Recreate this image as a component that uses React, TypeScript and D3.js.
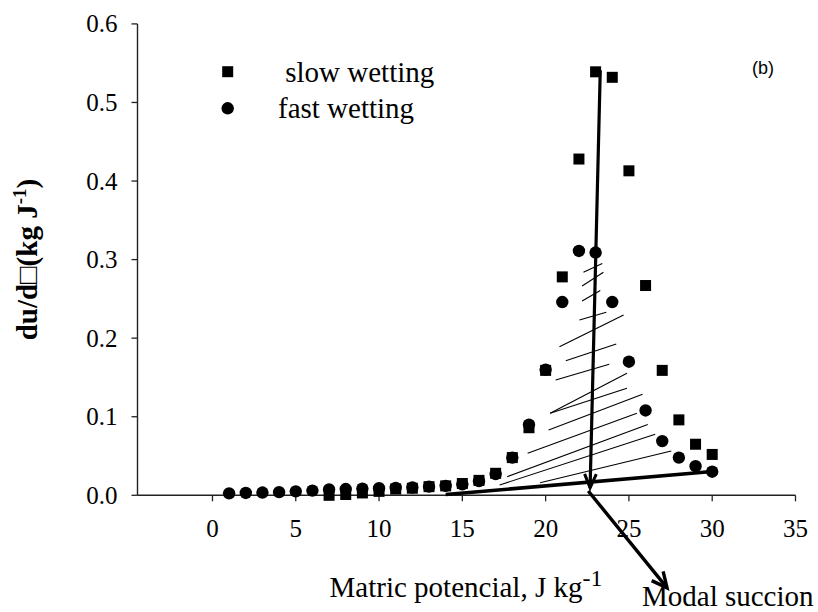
import React from 'react';
import * as d3 from 'd3';

// ---- data ----
const slowX = [7, 8, 9, 10, 11, 12, 13, 14, 15, 16, 17, 18, 19, 20, 21, 22, 23, 24, 25, 26, 27, 28, 29, 30];
const slowY = [0.0, 0.001, 0.003, 0.005, 0.008, 0.009, 0.011, 0.012, 0.015, 0.019, 0.028, 0.048, 0.086, 0.159, 0.278, 0.428, 0.539, 0.532, 0.413, 0.267, 0.159, 0.096, 0.065, 0.052];
const fastX = [1, 2, 3, 4, 5, 6, 7, 8, 9, 10, 11, 12, 13, 14, 15, 16, 17, 18, 19, 20, 21, 22, 23, 24, 25, 26, 27, 28, 29, 30];
const fastY = [0.0025, 0.003, 0.0035, 0.004, 0.005, 0.006, 0.0075, 0.008, 0.0085, 0.009, 0.0095, 0.010, 0.011, 0.012, 0.014, 0.018, 0.027, 0.048, 0.090, 0.160, 0.246, 0.311, 0.309, 0.246, 0.170, 0.108, 0.069, 0.048, 0.037, 0.030];
const xTicks = [0, 5, 10, 15, 20, 25, 30, 35];
const yTicks = [0, 0.1, 0.2, 0.3, 0.4, 0.5, 0.6];
const seriesNames = [' slow wetting', 'fast wetting'];
// hatch segments [x1, y1, x2, y2] in data units
const hatch: number[][] = [
  [22.27, 0.2838, 23.40, 0.2950],
  [22.19, 0.2664, 23.47, 0.2838],
  [22.19, 0.2473, 23.28, 0.2607],
  [22.03, 0.2231, 23.64, 0.2329],
  [20.83, 0.1891, 24.68, 0.2295],
  [21.21, 0.1713, 24.24, 0.1926],
  [20.60, 0.1468, 23.82, 0.1667],
  [20.27, 0.1044, 24.88, 0.1553],
  [20.27, 0.1044, 24.88, 0.1362],
  [20.18, 0.0831, 25.82, 0.1285],
  [18.92, 0.0535, 25.48, 0.1044],
  [17.69, 0.0237, 26.13, 0.0901],
  [17.24, 0.0131, 26.58, 0.0778],
  [19.67, 0.0160, 27.54, 0.0564],
];
const peakLine = [[23.28, 0.541], [22.67, 0.0095]];
const baseLine = [[14, 0.001], [30, 0.0303]];
const modalArrow = [[22.56, 0.0055], [27.29, -0.1178]];

const W = 818, H = 612;
const serif = '"Liberation Serif", "Times New Roman", serif';

function arrowHead(x1: number, y1: number, x2: number, y2: number, len: number, ang: number) {
  const a = Math.atan2(y2 - y1, x2 - x1);
  const p1 = [x2 - len * Math.cos(a - ang), y2 - len * Math.sin(a - ang)];
  const p2 = [x2 - len * Math.cos(a + ang), y2 - len * Math.sin(a + ang)];
  return `M${p1[0]},${p1[1]}L${x2},${y2}L${p2[0]},${p2[1]}`;
}

export default function App() {
  const x = d3.scaleLinear().domain([-4.5, 35]).range([137.5, 795.5]);
  const y = d3.scaleLinear().domain([0, 0.6]).range([495.3, 23.9]);
  const x0 = x.range()[0];
  const y0 = y(0);
  const line = d3.line<number[]>().x(d => x(d[0])).y(d => y(d[1]));

  const pk = peakLine.map(d => [x(d[0]), y(d[1])]);
  const md = modalArrow.map(d => [x(d[0]), y(d[1])]);

  return (
    <svg width={W} height={H} style={{ position: 'absolute', left: 0, top: 0, background: '#fff' }} fontFamily={serif}>
      <rect width={W} height={H} fill="#fff" />
      {/* axes */}
      <line x1={x0} x2={x(35)} y1={y0} y2={y0} stroke="#222" strokeWidth={1.4} />
      <line x1={x0} x2={x0} y1={y(0.6)} y2={y0} stroke="#222" strokeWidth={1.4} />
      {xTicks.map(t => (
        <g key={'xt' + t}>
          <line x1={x(t)} x2={x(t)} y1={y0} y2={y0 + 6} stroke="#222" strokeWidth={1.3} />
          <text x={x(t)} y={y0 + 42} fontSize={25} textAnchor="middle" fill="#000">{t}</text>
        </g>
      ))}
      {yTicks.map(t => (
        <g key={'yt' + t}>
          <line x1={x0 - 6} x2={x0} y1={y(t)} y2={y(t)} stroke="#222" strokeWidth={1.3} />
          <text x={x0 - 20} y={y(t) + 8.5} fontSize={25} textAnchor="end" fill="#000">{t.toFixed(1)}</text>
        </g>
      ))}
      {/* hatch */}
      {hatch.map((h, i) => (
        <line key={'h' + i} x1={x(h[0])} y1={y(h[1])} x2={x(h[2])} y2={y(h[3])} stroke="#000" strokeWidth={1.1} />
      ))}
      {/* thick lines */}
      <path d={line(baseLine as any) || ''} stroke="#000" strokeWidth={3.6} fill="none" />
      <path d={line(peakLine as any) || ''} stroke="#000" strokeWidth={3.2} fill="none" />
      <path d={arrowHead(pk[0][0], pk[0][1], pk[1][0], pk[1][1], 15, 0.4)} stroke="#000" strokeWidth={3} fill="none" />
      <path d={line(modalArrow as any) || ''} stroke="#000" strokeWidth={3.4} fill="none" />
      <path d={arrowHead(md[0][0], md[0][1], md[1][0], md[1][1], 17, 0.45)} stroke="#000" strokeWidth={3.4} fill="none" />
      {/* points */}
      {fastX.map((v, i) => (
        <circle key={'f' + i} cx={x(v)} cy={y(fastY[i])} r={6.2} fill="#000" />
      ))}
      {slowX.map((v, i) => (
        <rect key={'s' + i} x={x(v) - 5.5} y={y(slowY[i]) - 5.5} width={11} height={11} fill="#000" />
      ))}
      {/* legend */}
      <rect x={222.2} y={66.2} width={11} height={11} fill="#000" />
      <circle cx={227.7} cy={108.3} r={6.2} fill="#000" />
      <text x={278} y={82} fontSize={29} fill="#000" style={{ whiteSpace: 'pre' }}>{seriesNames[0]}</text>
      <text x={278} y={118} fontSize={29} fill="#000">{seriesNames[1]}</text>
      <text x={752} y={74} fontSize={18} fontFamily='"Liberation Sans", Arial, sans-serif' fill="#000">(b)</text>
      {/* axis titles */}
      <text x={466} y={597} fontSize={29} textAnchor="middle" fill="#000">
        Matric potencial, J kg<tspan fontSize={24} dy={-11}>-1</tspan>
      </text>
      <text transform={`translate(37, ${(y(0) + y(0.6)) / 2}) rotate(-90)`} fontSize={29} fontWeight="bold" textAnchor="middle" fill="#000">
        du/d□(kg J<tspan fontSize={19} dy={-11}>-1</tspan><tspan dy={11}>)</tspan>
      </text>
      <text x={642} y={606} fontSize={29} fill="#000">Modal succion</text>
    </svg>
  );
}
